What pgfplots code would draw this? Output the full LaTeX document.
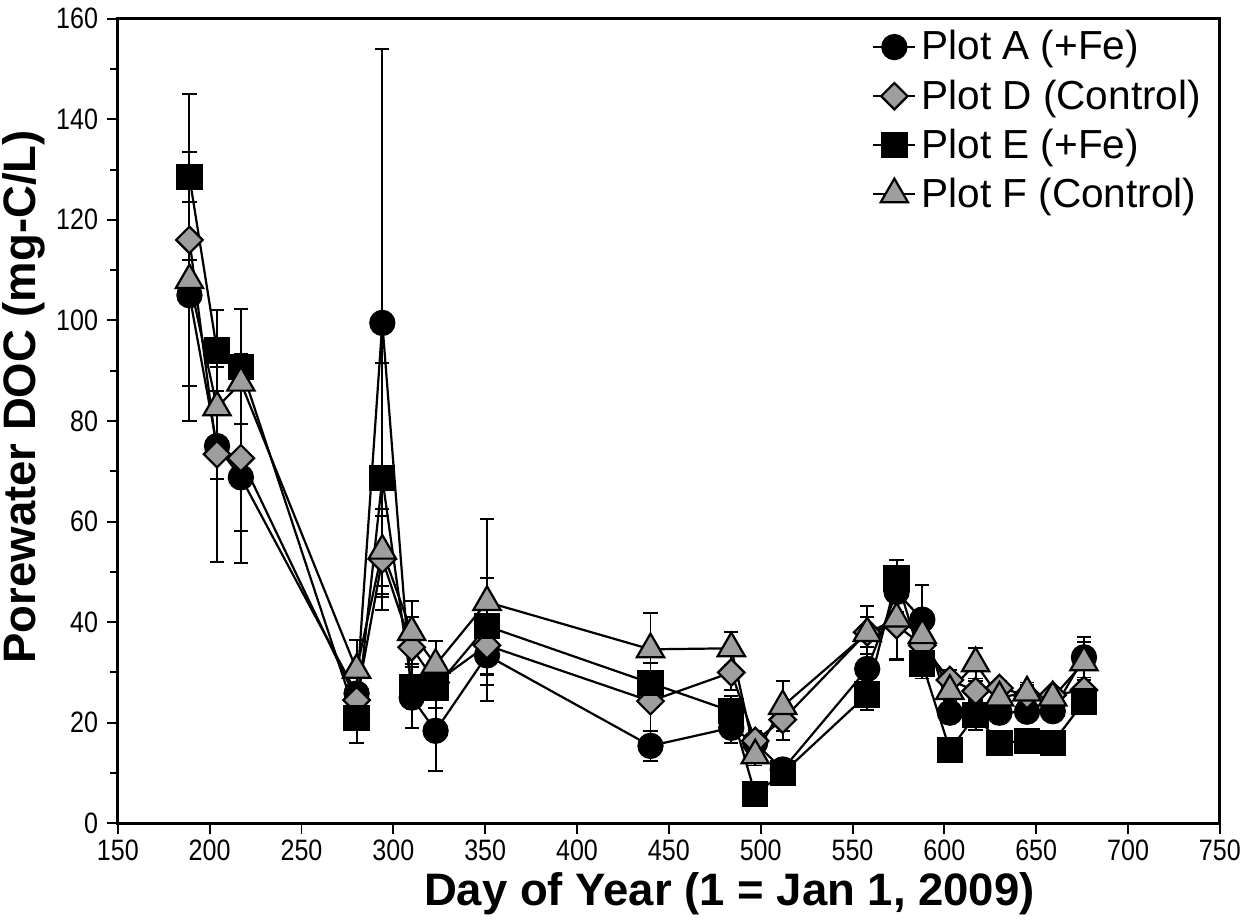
\documentclass[border=0pt]{standalone}
\usepackage{pgfplots}
\pgfplotsset{compat=1.18}
\usepackage{pgfplotstable}
\usepackage{fontspec}
\setmainfont{Liberation Sans}
\newfontfamily\tickfont[FakeStretch=0.85]{Liberation Sans}
\definecolor{mgray}{RGB}{158,158,158}

\pgfplotstableread{
x y e
189 105 25
204 75 6.6
217 68.8 10.6
280 25.8 4
294 99.5 54.5
310 25 6
323 18.4 8
351 33.4 9
440 15.4 3
484 19 3
497 16 2
512 10.7 2
558 30.7 3
574 46 4
588 40.5 6.8
603 22 2
617 21.5 2
630 22 2
645 22.2 2
659 22.3 2
676 33 4
}\plotA

\pgfplotstableread{
x y e
189 116 29
204 73.4 21.4
217 72.6 20.8
280 24.5 3
294 52.5 10
310 35 6
323 28 3
351 35.4 6
440 24.3 6
484 30 3.5
497 16.4 2
512 20.6 4
558 38 3
574 39.4 7
588 35.4 3
603 28.5 2
617 26.3 2
630 26.9 1.5
645 25.5 2
659 25.5 1.5
676 26.5 2
}\plotD

\pgfplotstableread{
x y e
189 128.5 5
204 94 8
217 90.8 11.5
280 21 5
294 68.6 23
310 27 4
323 27 4
351 39.2 9.5
440 27.9 4
484 22.3 3
497 5.8 1
512 10 2
558 25.6 3
574 48.7 3.7
588 31.8 3
603 14.6 1
617 21.5 3
630 16 1
645 16.4 1
659 16 1
676 24.2 2.5
}\plotE

\pgfplotstableread{
x y e
189 108 4
204 82.7 8
217 87.6 1
280 30.5 6
294 54.2 7
310 38 6.3
323 31.5 4.7
351 44 16.5
440 34.6 7.2
484 34.8 3.3
497 13.5 2
512 23.3 5
558 37.8 5.5
574 40.7 8
588 37.4 3
603 26.3 2
617 31.8 3
630 25 2
645 26 2
659 25 1.5
676 32 4
}\plotF

\begin{document}
\begin{tikzpicture}
\begin{axis}[
  scale only axis,
  width=15.75cm, height=11.5cm,
  xmin=150, xmax=750, ymin=0, ymax=160,
  xtick distance=50, ytick distance=20, minor y tick num=1,
  axis line style={line width=1.3pt},
  tick style={black, line width=0.8pt},
  major tick length=4.5pt, minor tick length=3pt,
  tick align=outside, xtick pos=bottom, ytick pos=left,
  /pgf/number format/assume math mode=true,
  /pgf/number format/1000 sep={},
  tick label style={font=\tickfont\fontsize{12}{14}\selectfont},
  xticklabel style={yshift=1.5pt},
  xlabel={Day of Year (1 = Jan 1, 2009)},
  ylabel={Porewater DOC (mg-C/L)},
  label style={font=\fontsize{18.5}{21}\selectfont\bfseries},
  xlabel style={at={(ticklabel cs:0.555)}, yshift=2pt},
  ylabel style={at={(ticklabel cs:0.53)}, inner sep=1pt},
  legend style={draw=none, fill=none, at={(0.99,0.995)}, anchor=north east,
    font=\fontsize{16.5}{19}\selectfont, row sep=2.5pt, inner sep=1pt},
  legend cell align=left,
  error bars/error bar style={line width=0.8pt, black},
  error bars/error mark options={rotate=90, mark size=2.9pt, line width=0.8pt, black},
]
\addplot[black, line width=0.9pt, mark=*, mark size=4.9pt,
  mark options={fill=black, draw=black, solid},
  error bars/.cd, y dir=both, y explicit]
  table[x=x, y=y, y error=e] {\plotA};
\addlegendentry{Plot A (+Fe)}
\addplot[black, line width=0.9pt, mark=square*, mark size=3.8pt,
  mark options={fill=mgray, draw=black, rotate=45, solid},
  error bars/.cd, y dir=both, y explicit]
  table[x=x, y=y, y error=e] {\plotD};
\addlegendentry{Plot D (Control)}
\addplot[black, line width=0.9pt, mark=square*, mark size=4.9pt,
  mark options={fill=black, draw=black, solid},
  error bars/.cd, y dir=both, y explicit]
  table[x=x, y=y, y error=e] {\plotE};
\addlegendentry{Plot E (+Fe)}
\addplot[black, line width=0.9pt, mark=triangle*, mark size=6.4pt,
  mark options={fill=mgray, draw=black, solid},
  error bars/.cd, y dir=both, y explicit]
  table[x=x, y=y, y error=e] {\plotF};
\addlegendentry{Plot F (Control)}
\end{axis}
\end{tikzpicture}
\end{document}
